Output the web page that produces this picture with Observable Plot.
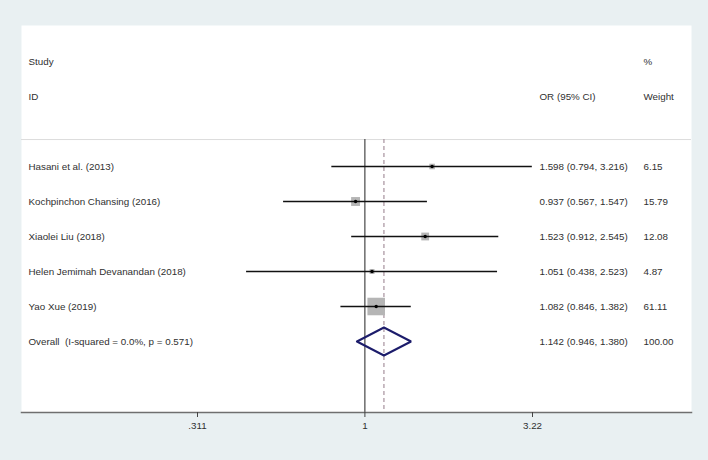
<!DOCTYPE html>
<html>
<head>
<meta charset="utf-8">
<script src="https://cdn.jsdelivr.net/npm/d3@7"></script>
<script src="https://cdn.jsdelivr.net/npm/@observablehq/plot@0.6"></script>
<style>
  html, body { margin: 0; padding: 0; background: #e9f0f2; }
  #chart svg, #chart svg text { font-family: "Liberation Sans", Arial, sans-serif !important; white-space: pre; }
</style>
</head>
<body>
<div id="chart"></div>
<script>
// ---- data ----
const studies = [
  "Hasani et al. (2013)",
  "Kochpinchon Chansing (2016)",
  "Xiaolei Liu (2018)",
  "Helen Jemimah Devanandan (2018)",
  "Yao Xue (2019)"
];
const oddsRatios = [1.598, 0.937, 1.523, 1.051, 1.082];
const ciLower   = [0.794, 0.567, 0.912, 0.438, 0.846];
const ciUpper   = [3.216, 1.547, 2.545, 2.523, 1.382];
const weights   = [6.15, 15.79, 12.08, 4.87, 61.11];

const overallLabel = "Overall  (I-squared = 0.0%, p = 0.571)";
const overallOR = 1.142;
const overallLower = 0.946;
const overallUpper = 1.380;
const overallWeight = 100.00;

const headerRow1 = ["Study", "", "%"];
const headerRow2 = ["ID", "OR (95% CI)", "Weight"];

const tickValues = [0.311, 1, 3.22];
const tickLabels = [".311", "1", "3.22"];

// ---- layout helpers (row indices) ----
const FIRST_STUDY_ROW = 3;
const rows = studies.map((s, i) => ({
  row: FIRST_STUDY_ROW + i,
  study: s,
  or: oddsRatios[i],
  lo: ciLower[i],
  hi: ciUpper[i],
  w: weights[i],
  ciText: `${oddsRatios[i].toFixed(3)} (${ciLower[i].toFixed(3)}, ${ciUpper[i].toFixed(3)})`,
  wText: weights[i].toFixed(2)
}));
const overallRow = FIRST_STUDY_ROW + studies.length;
const overall = {
  row: overallRow, study: overallLabel, or: overallOR, lo: overallLower, hi: overallUpper,
  ciText: `${overallOR.toFixed(3)} (${overallLower.toFixed(3)}, ${overallUpper.toFixed(3)})`,
  wText: overallWeight.toFixed(2)
};
const SEP_ROW = 2.23;
const BOTTOM_ROW = 10.03;
const DIAMOND_HALF = 0.4;
const diamond = [
  {x: overall.lo, y: overall.row},
  {x: overall.or, y: overall.row - DIAMOND_HALF},
  {x: overall.hi, y: overall.row},
  {x: overall.or, y: overall.row + DIAMOND_HALF},
  {x: overall.lo, y: overall.row}
];
const headers = [
  {row: 0, a: headerRow1[0], b: headerRow1[1], c: headerRow1[2]},
  {row: 1, a: headerRow2[0], b: headerRow2[1], c: headerRow2[2]}
];
const textRows = [...headers,
  ...rows.map(r => ({row: r.row, a: r.study, b: r.ciText, c: r.wText})),
  {row: overall.row, a: overall.study, b: overall.ciText, c: overall.wText}];

const FONT = '"Liberation Sans", Arial, sans-serif';
const FS = 9.8;
const TXT = "#303030";

const chart = Plot.plot({
  width: 708,
  height: 460,
  marginLeft: 21,
  marginRight: 17,
  marginTop: 25,
  marginBottom: 48,
  style: {background: "transparent", fontFamily: FONT, fontSize: FS + "px", color: TXT},
  x: {type: "log", domain: [tickValues[0], tickValues[2]], range: [197, 532]},
  y: {type: "linear", domain: [0, 8], range: [61, 341], axis: null},
  r: {type: "sqrt", domain: [0, 61.11], range: [0, 9.9]},
  marks: [
    Plot.frame({fill: "white", stroke: null}),
    Plot.ruleY([SEP_ROW], {stroke: "#dcdcdc", strokeWidth: 1}),
    Plot.ruleX([1], {y1: SEP_ROW, y2: BOTTOM_ROW, stroke: "#222", strokeWidth: 1}),
    Plot.ruleX([overallOR], {y1: SEP_ROW, y2: BOTTOM_ROW, stroke: "#a6929e", strokeWidth: 1.2, strokeDasharray: "4,3"}),
    Plot.dot(rows, {x: "or", y: "row", r: "w", symbol: "square", fill: "#b5b5b5", stroke: null}),
    Plot.ruleY(rows, {y: "row", x1: "lo", x2: "hi", stroke: "#111", strokeWidth: 1.5}),
    Plot.dot(rows, {x: "or", y: "row", r: 1.7, fill: "#000", stroke: null}),
    Plot.line(diamond, {x: "x", y: "y", stroke: "#1c1c6b", strokeWidth: 2, strokeLinejoin: "miter"}),
    Plot.text(textRows, {y: "row", text: "a", frameAnchor: "left", dx: 7, textAnchor: "start", fill: TXT, fontSize: FS, fontFamily: FONT}),
    Plot.text(textRows, {y: "row", text: "b", frameAnchor: "right", dx: -152, textAnchor: "start", fill: TXT, fontSize: FS, fontFamily: FONT}),
    Plot.text(textRows, {y: "row", text: "c", frameAnchor: "right", dx: -48, textAnchor: "start", fill: TXT, fontSize: FS, fontFamily: FONT}),
    Plot.frame({anchor: "bottom", stroke: "#6f6f6f", strokeWidth: 1.5}),
    Plot.axisX({ticks: tickValues, tickFormat: (d) => tickLabels[tickValues.indexOf(d)], tickSize: 5, tickPadding: 5, stroke: "#444", fill: TXT, fontSize: FS, fontFamily: FONT, label: null})
  ]
});
document.getElementById("chart").appendChild(chart);
</script>
</body>
</html>
